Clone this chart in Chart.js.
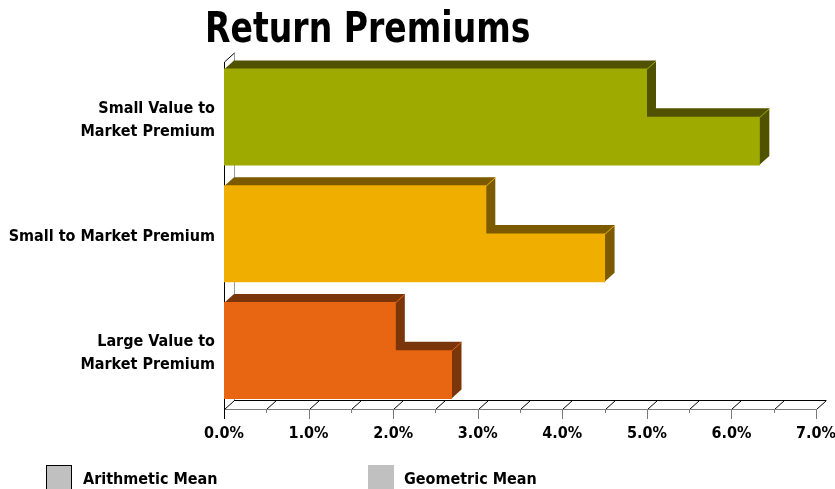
<!DOCTYPE html>
<html><head><meta charset="utf-8">
<script src="https://cdn.jsdelivr.net/npm/chart.js@4/dist/chart.umd.min.js"></script>
<style>
html,body{margin:0;padding:0;background:#fff;}
#wrap{position:relative;width:835px;height:489px;overflow:hidden;background:#fff;}
#chart{position:absolute;left:0;top:0;}
#title{position:absolute;left:205px;top:0px;font-family:"DejaVu Sans Condensed";font-weight:bold;font-size:42px;line-height:56px;color:#000;white-space:nowrap;transform:scaleX(0.876);transform-origin:0 0;}
.box{position:absolute;width:26px;height:26px;background:#c0c0c0;box-sizing:border-box;}
.lt{position:absolute;font-family:"DejaVu Sans Condensed";font-weight:bold;font-size:16px;line-height:20px;color:#000;white-space:nowrap;}
</style></head>
<body>
<div id="wrap">
<canvas id="chart" width="835" height="489"></canvas>
<div id="title">Return Premiums</div>
<div class="box" style="left:46px;top:465px;border:1px solid #000;"></div>
<div class="lt" style="left:83px;top:469px;">Arithmetic Mean</div>
<div class="box" style="left:368px;top:465px;"></div>
<div class="lt" style="left:404px;top:469px;">Geometric Mean</div>
</div>
<script>
const categories = [['Small Value to', 'Market Premium'], 'Small to Market Premium', ['Large Value to', 'Market Premium']];
const geometricMean = [4.99, 3.09, 2.02];
const arithmeticMean = [6.33, 4.50, 2.69];
const xMin = 0, xMax = 7;
const frontColors = ['#9FAA00', '#F0AE00', '#E86511'];
const sideColors = ['#505200', '#7B5A00', '#7A360A'];

const DX = 10, DY = 9;

const threeD = {
  id: 'threeD',
  beforeDatasetsDraw(chart) {
    const ctx = chart.ctx;
    const a = chart.chartArea;
    const xs = chart.scales.x;
    ctx.save();
    ctx.lineWidth = 1;
    ctx.strokeStyle = '#000';
    ctx.beginPath();
    ctx.moveTo(a.left + DX, a.bottom - DY + 0.5);
    ctx.lineTo(a.right + DX, a.bottom - DY + 0.5);
    ctx.stroke();
    for (let v = xMin; v <= xMax + 1e-9; v += 0.5) {
      const px = Math.round(xs.getPixelForValue(v)) + 0.5;
      ctx.beginPath();
      ctx.moveTo(px, a.bottom + 0.5);
      ctx.lineTo(px + DX, a.bottom - DY + 0.5);
      ctx.stroke();
    }
    ctx.strokeStyle = '#9a9a9a';
    ctx.beginPath();
    ctx.moveTo(a.left + DX + 0.5, a.top - DY + 3);
    ctx.lineTo(a.left + DX + 0.5, a.bottom - DY);
    ctx.stroke();
    ctx.strokeStyle = '#000';
    ctx.beginPath();
    ctx.moveTo(a.left + 0.5, a.top + 3);
    ctx.lineTo(a.left + DX + 0.5, a.top - DY + 3);
    ctx.stroke();
    ctx.beginPath();
    ctx.moveTo(a.left + 0.5, a.top + 3);
    ctx.lineTo(a.left + 0.5, a.bottom + 10);
    ctx.stroke();
    ctx.strokeStyle = '#7a7a7a';
    ctx.beginPath();
    ctx.moveTo(a.left, a.bottom + 0.5);
    ctx.lineTo(a.right + 1, a.bottom + 0.5);
    ctx.stroke();
    for (let v = xMin; v <= xMax + 1e-9; v += 0.5) {
      const px = Math.round(xs.getPixelForValue(v)) + 0.5;
      const major = Math.abs(v - Math.round(v)) < 1e-9;
      ctx.strokeStyle = v === 0 ? '#000' : '#7a7a7a';
      ctx.beginPath();
      ctx.moveTo(px, a.bottom);
      ctx.lineTo(px, a.bottom + (major ? 10 : 4));
      ctx.stroke();
    }
    [1, 0].forEach(di => {
      const meta = chart.getDatasetMeta(di);
      meta.data.forEach((bar, i) => {
        const p = bar.getProps(['x', 'y', 'base', 'height'], true);
        const top = p.y - p.height / 2, bot = p.y + p.height / 2;
        const x0 = p.base, x1 = p.x;
        ctx.fillStyle = sideColors[i];
        ctx.beginPath();
        ctx.moveTo(x0, top);
        ctx.lineTo(x0 + DX, top - DY);
        ctx.lineTo(x1 + DX, top - DY);
        ctx.lineTo(x1 + DX, bot - DY);
        ctx.lineTo(x1, bot);
        ctx.closePath();
        ctx.fill();
        ctx.strokeStyle = frontColors[i];
        ctx.beginPath();
        ctx.moveTo(x1, top + 0.5);
        ctx.lineTo(x1 + DX, top - DY + 0.5);
        ctx.stroke();
      });
    });
    ctx.restore();
  }
};

new Chart(document.getElementById('chart'), {
  type: 'bar',
  data: {
    labels: categories,
    datasets: [
      { label: 'Geometric Mean', data: geometricMean, backgroundColor: frontColors, borderWidth: 0, inflateAmount: 1 },
      { label: 'Arithmetic Mean', data: arithmeticMean, backgroundColor: frontColors, borderWidth: 0, inflateAmount: 0.5 }
    ]
  },
  options: {
    indexAxis: 'y',
    responsive: false,
    animation: false,
    events: [],
    layout: { padding: { top: 59, right: 19, bottom: 40, left: 0 } },
    categoryPercentage: 0.818,
    barPercentage: 1,
    plugins: { legend: { display: false }, tooltip: { enabled: false }, title: { display: false } },
    scales: {
      y: {
        type: 'category',
        grid: { display: false, drawTicks: false },
        border: { display: false },
        ticks: { color: '#000', padding: 9, labelOffset: 3, font: { family: 'DejaVu Sans Condensed', weight: 'bold', size: 16, lineHeight: 1.45 } },
        afterFit(s) { s.width = 224; s.paddingTop = 0; s.paddingBottom = 0; }
      },
      x: {
        min: xMin, max: xMax,
        grid: { display: false, drawTicks: false },
        border: { display: false },
        ticks: { stepSize: 1, color: '#000', padding: 15, maxRotation: 0, autoSkip: false, font: { family: 'DejaVu Sans Condensed', weight: 'bold', size: 16 },
          callback: v => Number(v).toFixed(1) + '%' },
        afterFit(s) { s.height = 40; s.paddingLeft = 0; s.paddingRight = 0; }
      }
    }
  },
  plugins: [threeD]
});
</script>
</body></html>
